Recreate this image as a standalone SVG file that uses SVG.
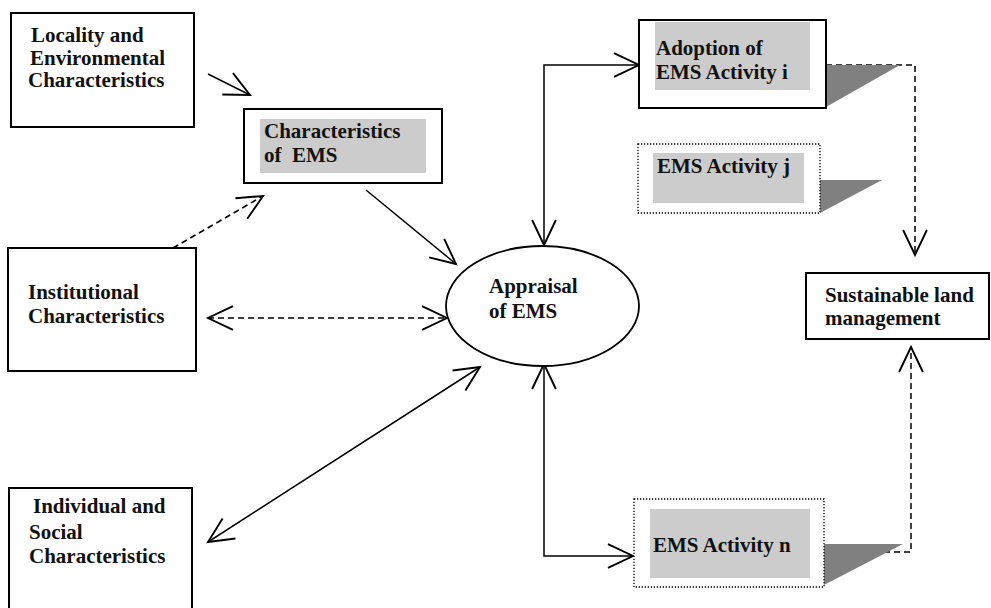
<svg xmlns="http://www.w3.org/2000/svg" width="991" height="608" viewBox="0 0 991 608">
<style>
text{font-family:"Liberation Serif","Times New Roman","DejaVu Serif",serif;font-weight:bold;font-size:21px;fill:#111}
.box{fill:#fff;stroke:#000;stroke-width:2}
.dot{fill:#fff;stroke:#000;stroke-width:1.3;stroke-dasharray:1.3 1.7}
.hl{fill:#cccccc;stroke:none}
.sh{fill:#808080;stroke:none}
.c{fill:none;stroke:#000;stroke-width:1.5}
.d{stroke-dasharray:6 4}
</style>
<defs>
<marker id="ah" markerUnits="userSpaceOnUse" markerWidth="30" markerHeight="30" viewBox="-22 -12 24 24" refX="0" refY="0" orient="auto-start-reverse" overflow="visible">
<path d="M-20,-9.5 L0,0 L-20,9.5" fill="none" stroke="#000" stroke-width="1.5"/>
</marker>
</defs>
<rect width="991" height="608" fill="#fff"/>

<g id="connectors">
<line class="c" x1="208" y1="74" x2="250" y2="95" marker-end="url(#ah)"/>
<line class="c d" x1="173" y1="248" x2="263" y2="196" marker-end="url(#ah)"/>
<line class="c" x1="366" y1="190" x2="456" y2="264" marker-end="url(#ah)"/>
<line class="c d" x1="208" y1="318" x2="447" y2="318" marker-start="url(#ah)" marker-end="url(#ah)"/>
<line class="c" x1="208" y1="542" x2="480" y2="367" marker-start="url(#ah)" marker-end="url(#ah)"/>
<polyline class="c" points="544,245 544,65 639,65" marker-start="url(#ah)" marker-end="url(#ah)"/>
<polyline class="c" points="544,364 544,556 633,556" marker-start="url(#ah)" marker-end="url(#ah)"/>
<polyline class="c d" points="826,65 915,65 915,255" marker-end="url(#ah)"/>
<polyline class="c d" points="824,552 911,552 911,347" marker-end="url(#ah)"/>
</g>

<g id="locality">
<rect class="box" x="11" y="13" width="183" height="114"/>
<text x="31" y="42">Locality and</text>
<text x="30" y="65">Environmental</text>
<text x="28" y="87">Characteristics</text>
</g>

<g id="characteristics-ems">
<rect class="box" x="244" y="109" width="198" height="74"/>
<rect class="hl" x="260" y="119" width="166" height="54"/>
<text x="264" y="138">Characteristics</text>
<text x="264" y="162" xml:space="preserve">of  EMS</text>
</g>

<g id="institutional">
<rect class="box" x="8" y="248" width="188" height="123"/>
<text x="28" y="299">Institutional</text>
<text x="28" y="323">Characteristics</text>
</g>

<g id="individual">
<rect class="box" x="9" y="488" width="183" height="125"/>
<text x="33" y="513">Individual and</text>
<text x="29" y="539">Social</text>
<text x="29" y="563">Characteristics</text>
</g>

<g id="appraisal">
<ellipse cx="542.5" cy="306" rx="96.5" ry="60" fill="#fff" stroke="#000" stroke-width="1.8"/>
<text x="489" y="293">Appraisal</text>
<text x="489" y="318">of EMS</text>
</g>

<g id="adoption">
<polygon class="sh" points="826,65 900,65 826,107"/>
<rect class="box" x="639" y="20" width="187" height="88"/>
<rect class="hl" x="655" y="22" width="155" height="68"/>
<text x="656" y="55">Adoption of</text>
<text x="656" y="79">EMS Activity i</text>
</g>

<g id="activity-j">
<polygon class="sh" points="820,180 882,180 820,213"/>
<rect class="dot" x="638" y="144" width="182" height="69"/>
<rect class="hl" x="653" y="153" width="151" height="50"/>
<text x="657" y="173">EMS Activity j</text>
</g>

<g id="activity-n">
<polygon class="sh" points="824,544 903,544 824,585"/>
<rect class="dot" x="634" y="499" width="190" height="88"/>
<rect class="hl" x="650" y="509" width="160" height="69"/>
<text x="653" y="552">EMS Activity n</text>
</g>

<g id="sustainable">
<rect class="box" x="806" y="273" width="183" height="66"/>
<text x="825" y="302">Sustainable land</text>
<text x="825" y="325">management</text>
</g>
</svg>
